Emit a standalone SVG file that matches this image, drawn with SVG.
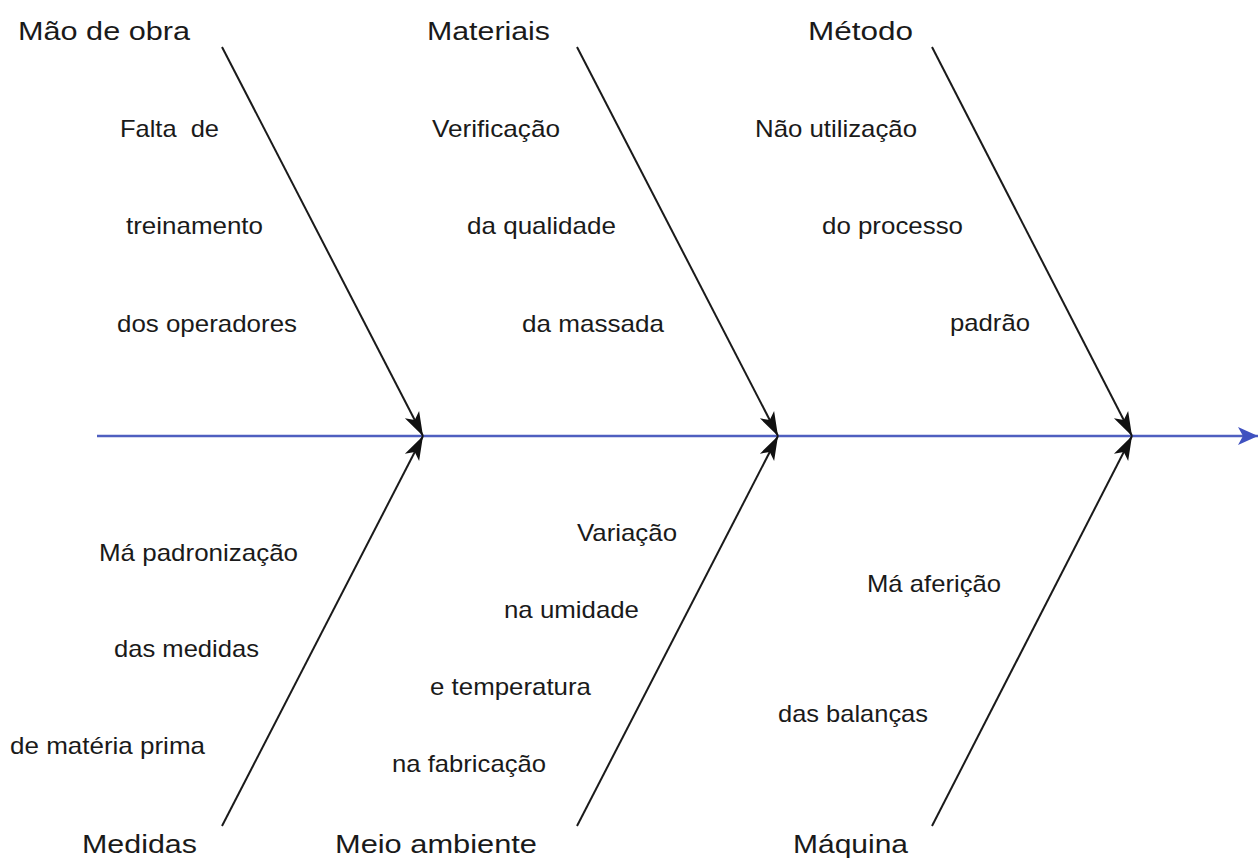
<svg xmlns="http://www.w3.org/2000/svg" width="1259" height="859" viewBox="0 0 1259 859">
<style>
.hd{font-family:"Liberation Sans",Arial,sans-serif;font-size:26px;fill:#1a1a1a}
.tx{font-family:"Liberation Sans",Arial,sans-serif;font-size:24px;fill:#1a1a1a}
.br{stroke:#1a1a1a;stroke-width:2;fill:none;marker-end:url(#ah)}
.sp{stroke:#4f5fc0;stroke-width:2.5;fill:none;marker-end:url(#bh)}
</style>
<defs>
<marker id="ah" markerUnits="userSpaceOnUse" markerWidth="26" markerHeight="18" refX="24" refY="8" orient="auto" viewBox="0 0 26 16">
<path d="M0,0 L24,8 L0,16 L6,8 z" fill="#111"/>
</marker>
<marker id="bh" markerUnits="userSpaceOnUse" markerWidth="22" markerHeight="20" refX="20" refY="9" orient="auto" viewBox="0 0 22 18">
<path d="M0,0 L20,9 L0,18 L5,9 z" fill="#3f51c0"/>
</marker>
</defs>
<g id="connectors">
<line class="sp" x1="97" y1="436" x2="1258" y2="436"/>
<line class="br" x1="222" y1="47" x2="423" y2="436"/>
<line class="br" x1="577" y1="47" x2="778" y2="436"/>
<line class="br" x1="932" y1="47" x2="1132" y2="436"/>
<line class="br" x1="222" y1="826" x2="423" y2="436"/>
<line class="br" x1="577" y1="826" x2="778" y2="436"/>
<line class="br" x1="932" y1="826" x2="1132" y2="436"/>
</g>
<g id="mao-de-obra">
<text class="hd" x="18" y="40" textLength="172" lengthAdjust="spacingAndGlyphs">Mão de obra</text>
<text class="tx" x="120" y="137" textLength="99" lengthAdjust="spacingAndGlyphs" xml:space="preserve">Falta  de</text>
<text class="tx" x="126" y="234" textLength="137" lengthAdjust="spacingAndGlyphs">treinamento</text>
<text class="tx" x="117" y="332" textLength="180" lengthAdjust="spacingAndGlyphs">dos operadores</text>
</g>
<g id="materiais">
<text class="hd" x="427" y="40" textLength="123" lengthAdjust="spacingAndGlyphs">Materiais</text>
<text class="tx" x="432" y="137" textLength="128" lengthAdjust="spacingAndGlyphs">Verificação</text>
<text class="tx" x="467" y="234" textLength="149" lengthAdjust="spacingAndGlyphs">da qualidade</text>
<text class="tx" x="522" y="332" textLength="142" lengthAdjust="spacingAndGlyphs">da massada</text>
</g>
<g id="metodo">
<text class="hd" x="808" y="40" textLength="105" lengthAdjust="spacingAndGlyphs">Método</text>
<text class="tx" x="755" y="137" textLength="162" lengthAdjust="spacingAndGlyphs">Não utilização</text>
<text class="tx" x="822" y="234" textLength="141" lengthAdjust="spacingAndGlyphs">do processo</text>
<text class="tx" x="950" y="331" textLength="80" lengthAdjust="spacingAndGlyphs">padrão</text>
</g>
<g id="medidas">
<text class="hd" x="82" y="853" textLength="115" lengthAdjust="spacingAndGlyphs">Medidas</text>
<text class="tx" x="99" y="561" textLength="199" lengthAdjust="spacingAndGlyphs">Má padronização</text>
<text class="tx" x="114" y="657" textLength="145" lengthAdjust="spacingAndGlyphs">das medidas</text>
<text class="tx" x="10" y="754" textLength="195" lengthAdjust="spacingAndGlyphs">de matéria prima</text>
</g>
<g id="meio-ambiente">
<text class="hd" x="335" y="853" textLength="202" lengthAdjust="spacingAndGlyphs">Meio ambiente</text>
<text class="tx" x="577" y="541" textLength="100" lengthAdjust="spacingAndGlyphs">Variação</text>
<text class="tx" x="504" y="618" textLength="135" lengthAdjust="spacingAndGlyphs">na umidade</text>
<text class="tx" x="430" y="695" textLength="161" lengthAdjust="spacingAndGlyphs">e temperatura</text>
<text class="tx" x="392" y="772" textLength="154" lengthAdjust="spacingAndGlyphs">na fabricação</text>
</g>
<g id="maquina">
<text class="hd" x="793" y="853" textLength="115" lengthAdjust="spacingAndGlyphs">Máquina</text>
<text class="tx" x="867" y="592" textLength="134" lengthAdjust="spacingAndGlyphs">Má aferição</text>
<text class="tx" x="778" y="722" textLength="150" lengthAdjust="spacingAndGlyphs">das balanças</text>
</g>
</svg>
